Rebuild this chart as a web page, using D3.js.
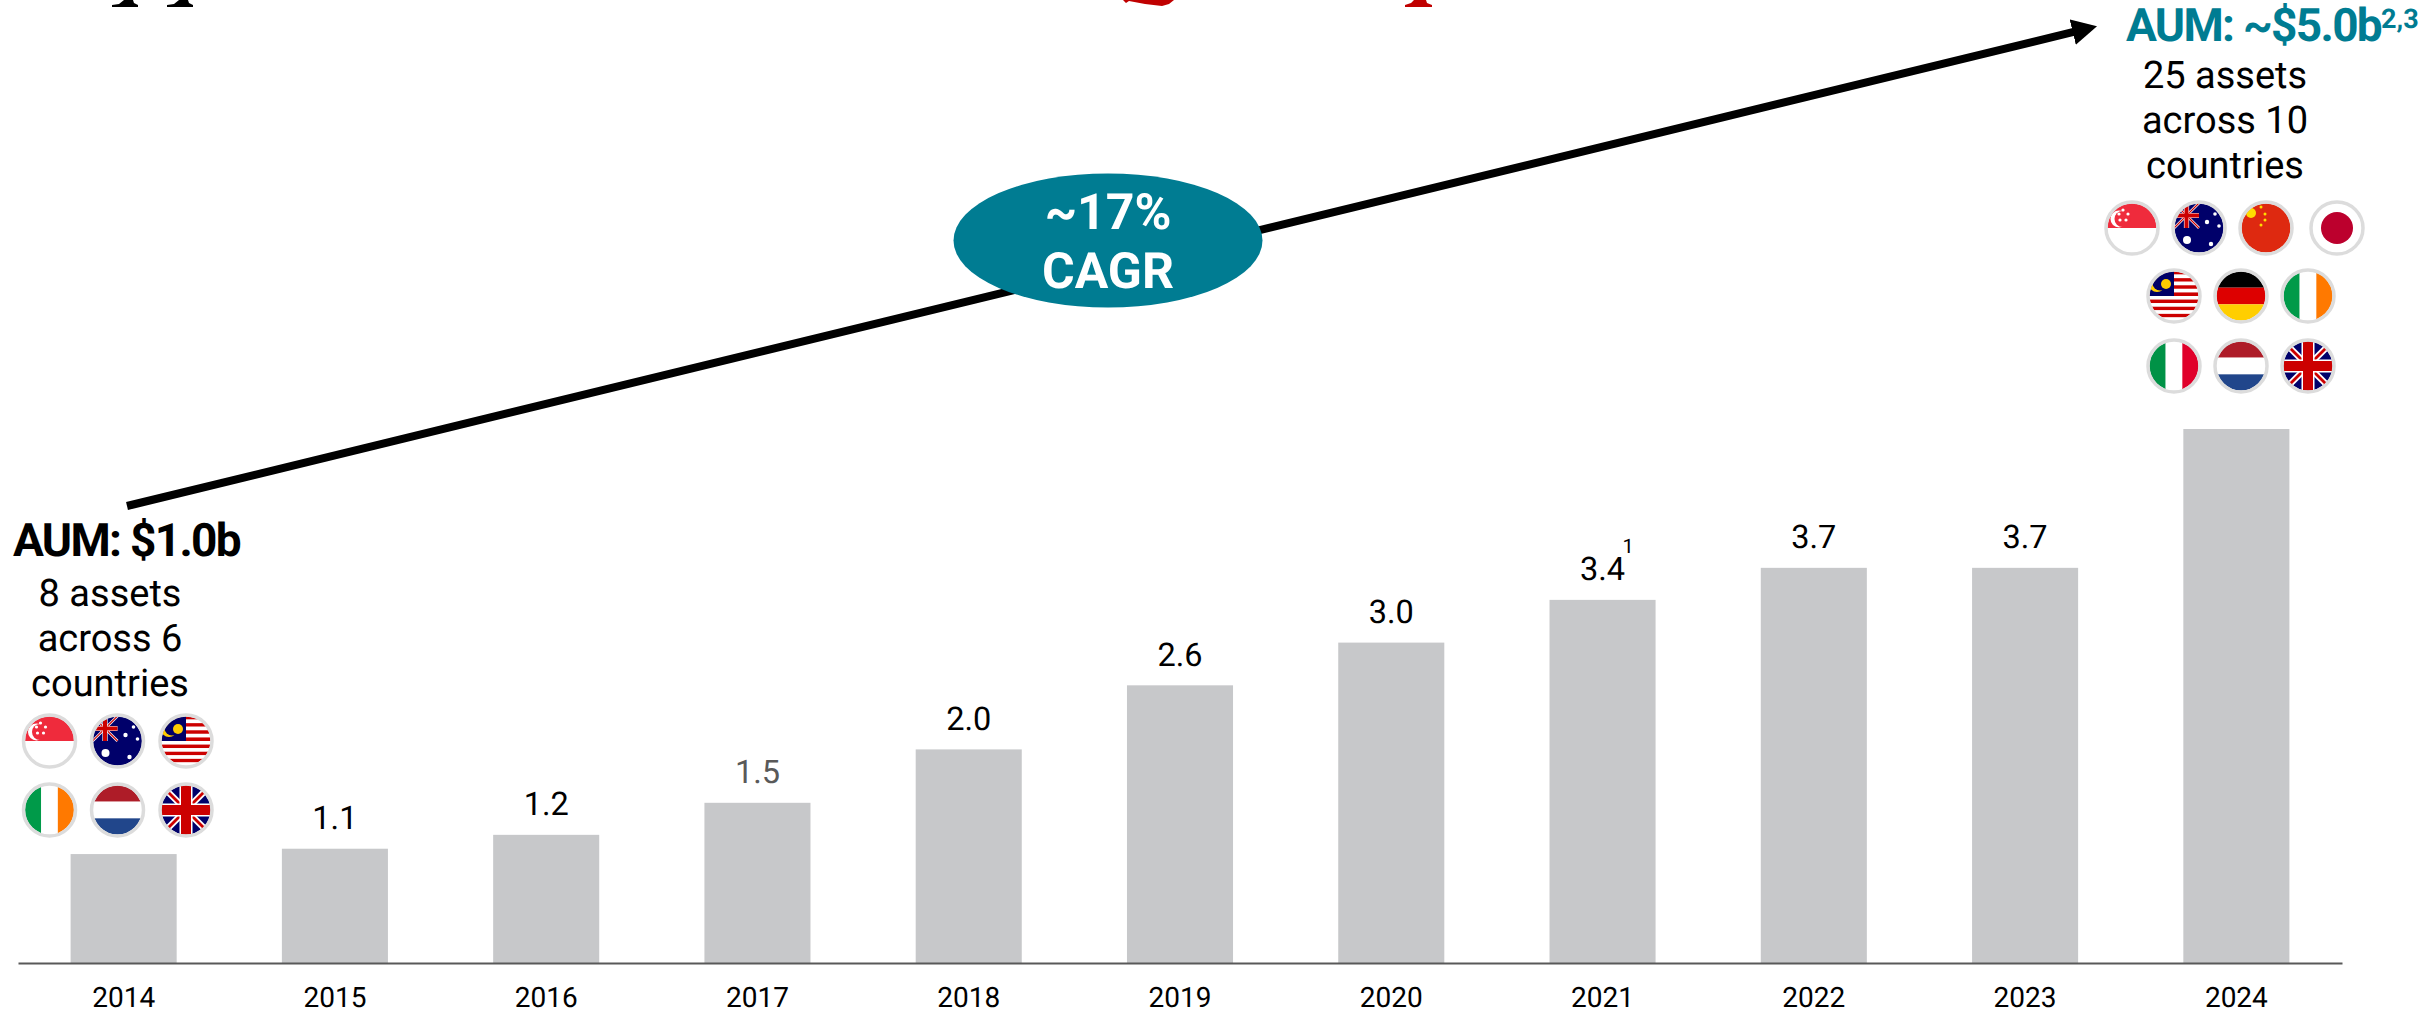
<!DOCTYPE html>
<html>
<head>
<meta charset="utf-8">
<script src="https://cdn.jsdelivr.net/npm/d3@7"></script>
<style>
  body { margin: 0; background: #fff; }
  text { font-family: Roboto, sans-serif; text-rendering: geometricPrecision; }
</style>
</head>
<body>
<div id="chart"></div>
<script>
// chart data
const years = ["2014", "2015", "2016", "2017", "2018", "2019", "2020", "2021", "2022", "2023", "2024"];
const aum = [1.02, 1.07, 1.2, 1.5, 2.0, 2.6, 3.0, 3.4, 3.7, 3.7, 5.0];
const barLabels = ["", "1.1", "1.2", "1.5", "2.0", "2.6", "3.0", "3.4", "3.7", "3.7", ""];
const startLines = ["8 assets", "across 6", "countries"];
const endLines = ["25 assets", "across 10", "countries"];
const startFlags = [["sg", "au", "my"], ["ie", "nl", "gb"]];
const endFlags = [["sg", "au", "cn", "jp"], ["my", "de", "ie"], ["it", "nl", "gb"]];

const teal = "#007c92";
const width = 2430, height = 1013;

const svg = d3.select("#chart").append("svg")
    .attr("width", width)
    .attr("height", height)
    .style("display", "block");

const xScale = d3.scaleBand()
    .domain(years)
    .range([18, 2342])
    .paddingInner(0.498)
    .paddingOuter(0.249);

const yScale = d3.scaleLinear()
    .domain([0, 5])
    .range([963, 429]);

// bars
svg.append("g")
  .selectAll("rect")
  .data(years)
  .join("rect")
    .attr("x", d => xScale(d))
    .attr("y", (d, i) => yScale(aum[i]))
    .attr("width", xScale.bandwidth())
    .attr("height", (d, i) => yScale(0) - yScale(aum[i]))
    .attr("fill", "#c7c8ca");

// x axis
const xAxis = d3.axisBottom(xScale).tickSize(0).tickSizeOuter(0);
const axisG = svg.append("g")
    .attr("transform", `translate(0,${yScale(0)})`)
    .call(xAxis);
axisG.select(".domain").attr("stroke", "#595959").attr("stroke-width", 2);
axisG.selectAll("text")
    .attr("y", 44)
    .attr("dy", 0)
    .attr("font-size", 28)
    .attr("font-family", "Roboto, sans-serif")
    .attr("fill", "#000");

// value labels
svg.append("g")
  .selectAll("text")
  .data(years)
  .join("text")
    .attr("x", d => xScale(d) + xScale.bandwidth() / 2)
    .attr("y", (d, i) => yScale(aum[i]) - 19.5)
    .attr("text-anchor", "middle")
    .attr("font-size", 32.5)
    .attr("fill", d => d === "2017" ? "#595959" : "#000")
    .text((d, i) => barLabels[i]);

// footnote on 2021
svg.append("text")
    .attr("x", xScale("2021") + xScale.bandwidth() / 2 + 20)
    .attr("y", yScale(aum[7]) - 47)
    .attr("font-size", 20)
    .text("1");

// the title above is cut off by the crop, only its feet are left
const titleFeet = [
  ["#000", "M112,7 L112,5 L119,4 L124,0 L133,0 L134,3 L138,5 L138,7 Z"],
  ["#000", "M167,7 L167,5 L174,4 L179,0 L188,0 L189,3 L193,5 L193,7 Z"],
  ["#c00000", "M1123,0 L1126,3 L1129,1 L1145,4 L1162,6 L1169,4 L1174,0 Z"],
  ["#c00000", "M1405,7 L1405,5 L1411,3 L1414,0 L1426,0 L1427,3 L1432,5 L1432,7 Z"]
];
svg.append("g")
  .selectAll("path")
  .data(titleFeet)
  .join("path")
    .attr("fill", d => d[0])
    .attr("d", d => d[1]);

// CAGR arrow, the line stops at the back of the head so the tip stays sharp
const headLength = 25;
const arrowStart = [127, 506], arrowTip = [2098, 26];
const arrowLen = Math.hypot(arrowTip[0] - arrowStart[0], arrowTip[1] - arrowStart[1]);
const arrowBack = [
  arrowTip[0] - (arrowTip[0] - arrowStart[0]) / arrowLen * headLength,
  arrowTip[1] - (arrowTip[1] - arrowStart[1]) / arrowLen * headLength
];

svg.append("defs").append("marker")
    .attr("id", "head")
    .attr("markerUnits", "userSpaceOnUse")
    .attr("viewBox", "0 0 25 26")
    .attr("markerWidth", 25)
    .attr("markerHeight", 26)
    .attr("refX", 1)
    .attr("refY", 13)
    .attr("orient", "auto")
  .append("path")
    .attr("d", "M0,0 L25,13 L0,26 Z")
    .attr("fill", "#000");

svg.append("line")
    .attr("x1", arrowStart[0]).attr("y1", arrowStart[1])
    .attr("x2", arrowBack[0]).attr("y2", arrowBack[1])
    .attr("stroke", "#000")
    .attr("stroke-width", 8)
    .attr("marker-end", "url(#head)");

svg.append("ellipse")
    .attr("cx", 1108).attr("cy", 240.5)
    .attr("rx", 154.5).attr("ry", 67)
    .attr("fill", teal);

svg.selectAll(".cagr")
  .data([["~17%", 229], ["CAGR", 288]])
  .join("text")
    .attr("class", "cagr")
    .attr("x", 1108)
    .attr("y", d => d[1])
    .attr("text-anchor", "middle")
    .attr("font-size", 50)
    .attr("font-weight", 700)
    .attr("fill", "#fff")
    .text(d => d[0]);

// start and end captions
svg.append("text")
    .attr("x", 13).attr("y", 556)
    .attr("font-size", 46)
    .attr("font-weight", 700)
    .attr("letter-spacing", -1.7)
    .text("AUM: $1.0b");

const endHead = svg.append("text")
    .attr("x", 2126).attr("y", 41)
    .attr("font-size", 46)
    .attr("font-weight", 700)
    .attr("fill", teal);
endHead.append("tspan").attr("letter-spacing", -1.7).text("AUM: ~$5.0b");
endHead.append("tspan")
    .attr("font-size", 27)
    .attr("dy", -13)
    .text("2,3");

function caption(lines, x, firstY) {
  svg.append("g")
    .selectAll("text")
    .data(lines)
    .join("text")
      .attr("x", x)
      .attr("y", (d, i) => firstY + i * 45)
      .attr("text-anchor", "middle")
      .attr("font-size", 38)
      .text(d => d);
}
caption(startLines, 110, 606);
caption(endLines, 2225, 88);

// flags, drawn in a box of radius 24.5 round the centre
let clipCount = 0;

function bands(g, colors, vertical) {
  const b = d3.scaleBand().domain(d3.range(colors.length)).range([-25, 25]);
  g.selectAll(null)
    .data(colors)
    .join("rect")
      .attr("x", (d, i) => vertical ? b(i) : -25)
      .attr("y", (d, i) => vertical ? -25 : b(i))
      .attr("width", vertical ? b.bandwidth() : 50)
      .attr("height", vertical ? 50 : b.bandwidth())
      .attr("fill", d => d);
}

function dots(g, list, color) {
  g.selectAll(null)
    .data(list)
    .join("circle")
      .attr("cx", d => d[0])
      .attr("cy", d => d[1])
      .attr("r", d => d[2])
      .attr("fill", color);
}

function unionJack(g, x0, y0, x1, y1, w) {
  g.append("rect").attr("x", x0).attr("y", y0).attr("width", x1 - x0).attr("height", y1 - y0).attr("fill", "#00006a");
  const mx = (x0 + x1) / 2, my = (y0 + y1) / 2;
  const lines = [
    [x0, y0, x1, y1, "#fff", w * 0.65], [x0, y1, x1, y0, "#fff", w * 0.65],
    [x0, y0, x1, y1, "#cc0000", w * 0.28], [x0, y1, x1, y0, "#cc0000", w * 0.28],
    [mx, y0, mx, y1, "#fff", w * 1.3], [x0, my, x1, my, "#fff", w * 1.3],
    [mx, y0, mx, y1, "#cc0000", w], [x0, my, x1, my, "#cc0000", w]
  ];
  g.selectAll(null)
    .data(lines)
    .join("line")
      .attr("x1", d => d[0]).attr("y1", d => d[1])
      .attr("x2", d => d[2]).attr("y2", d => d[3])
      .attr("stroke", d => d[4])
      .attr("stroke-width", d => d[5]);
}

const flagDrawers = {
  sg(g) {
    bands(g, ["#ef2b3c", "#fff"]);
    dots(g, [[-13, -9, 8.5]], "#fff");
    dots(g, [[-9.5, -9, 8]], "#ef2b3c");
    dots(g, [[-9, -18, 1.6], [-4, -14, 1.6], [-6, -8, 1.6], [-12, -8, 1.6], [-13, -14, 1.6]], "#fff");
  },
  au(g) {
    g.append("rect").attr("x", -25).attr("y", -25).attr("width", 50).attr("height", 50).attr("fill", "#00006a");
    unionJack(g, -25, -25, 0, 0, 4);
    dots(g, [[-12, 12, 4], [8, -6, 2.2], [16, -14, 1.8], [20, -2, 1.8], [12, 16, 2.2]], "#fff");
  },
  my(g) {
    bands(g, d3.range(14).map(i => i % 2 ? "#fff" : "#cc0000"));
    g.append("rect").attr("x", -25).attr("y", -25).attr("width", 25).attr("height", 25).attr("fill", "#010066");
    dots(g, [[-17, -12, 8]], "#ffcc00");
    dots(g, [[-14, -13, 7.5]], "#010066");
    dots(g, [[-8, -12, 5]], "#ffcc00");
  },
  ie(g) { bands(g, ["#009a49", "#fff", "#ff7900"], true); },
  nl(g) { bands(g, ["#ae1c28", "#fff", "#21468b"]); },
  gb(g) { unionJack(g, -25, -25, 25, 25, 10); },
  cn(g) {
    bands(g, ["#de2910"]);
    dots(g, [[-15, -15, 5]], "#ffde00");
    dots(g, [[-5, -21, 1.5], [-1, -14, 1.5], [-1, -8, 1.5], [-5, -3, 1.5]], "#ffde00");
  },
  jp(g) {
    bands(g, ["#fff"]);
    dots(g, [[0, 0, 16]], "#bc002d");
  },
  de(g) { bands(g, ["#000", "#dd0000", "#ffce00"]); },
  it(g) { bands(g, ["#009246", "#fff", "#e0002a"], true); }
};

function drawFlag(code, cx, cy) {
  const id = "flag-clip-" + clipCount++;
  const g = svg.append("g").attr("transform", `translate(${cx},${cy})`);
  g.append("clipPath").attr("id", id).append("circle").attr("r", 24.5);
  flagDrawers[code](g.append("g").attr("clip-path", `url(#${id})`));
  g.append("circle")
      .attr("r", 26)
      .attr("fill", "none")
      .attr("stroke", "#dcdcdc")
      .attr("stroke-width", 3.5);
}

const startX = [49.5, 117.5, 186], startY = [741, 810];
startFlags.forEach((row, r) => row.forEach((f, c) => drawFlag(f, startX[c], startY[r])));

const endX = [[2132, 2199, 2266, 2337], [2174, 2241, 2308], [2174, 2241, 2308]], endY = [228, 296, 366];
endFlags.forEach((row, r) => row.forEach((f, c) => drawFlag(f, endX[r][c], endY[r])));
</script>
</body>
</html>
